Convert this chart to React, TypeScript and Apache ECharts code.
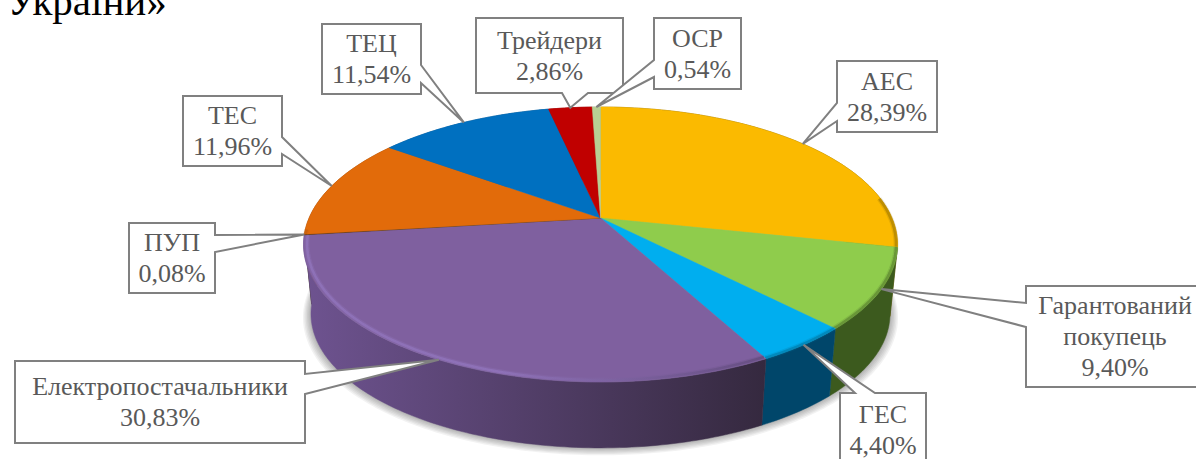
import React, { useEffect, useRef } from "react";
import * as echarts from "echarts";

const categories = ["АЕС", "Гарантований\nпокупець", "ГЕС", "Електропостачальники", "ПУП", "ТЕС", "ТЕЦ", "Трейдери", "ОСР"];
const shares = [28.39, 9.4, 4.4, 30.83, 0.08, 11.96, 11.54, 2.86, 0.54];
const titleFragment = "України»";

const topColors = ["#fbba00", "#8fcc4c", "#00aeef", "#7f609f", "#5a3a10", "#e26b0a", "#0070c0", "#c00000", "#b8cf94"];
const sideStart = ["#7d5d00", "#3f5c20", "#004c6e", "#6e5390", "#2a2a2a", "#8a4206", "#004a80", "#800000", "#7a8a60"];
const sideEnd = ["#7d5d00", "#3c5a1e", "#00466a", "#35293f", "#2a2a2a", "#8a4206", "#004a80", "#800000", "#7a8a60"];
const rimLeft = ["#8c6a00", "#5e8a30", "#0088bb", "#9a7fcb", "#2a2a2a", "#b85a10", "#005a9a", "#900000", "#8a9a70"];
const rimRight = ["#8c6a00", "#4a6c26", "#006c95", "#4c3a62", "#2a2a2a", "#b85a10", "#005a9a", "#900000", "#8a9a70"];

// Perspective projection of the pie disc on the page
const CX = 600.5, TOP_Y = 218, RX = 291.4, RY = 132.4, K = 0.1927;
const BASE_Y = 288, BASE_S = 0.975;
const HALO_STEPS = [6, 5, 4, 3, 2, 1];

type Box = { x: number; y: number; w: number; h: number; side: "l" | "r" | "t" | "b"; a: number; b: number };
const boxes: Box[] = [
  { x: 837, y: 61, w: 100, h: 71, side: "l", a: 103, b: 121 },
  { x: 1026, y: 286, w: 172, h: 101, side: "l", a: 303, b: 327 },
  { x: 840, y: 393, w: 86, h: 80, side: "t", a: 855, b: 875 },
  { x: 15, y: 361, w: 290, h: 82, side: "r", a: 374, b: 394 },
  { x: 129, y: 223, w: 86, h: 70, side: "r", a: 235, b: 252 },
  { x: 183, y: 96, w: 99, h: 70, side: "r", a: 137, b: 154 },
  { x: 322, y: 24, w: 99, h: 70, side: "r", a: 65, b: 83 },
  { x: 476, y: 18, w: 147, h: 75, side: "b", a: 562, b: 588 },
  { x: 654, y: 18, w: 87, h: 71, side: "l", a: 60, b: 77 },
];

const total = shares.reduce((s, v) => s + v, 0);
const starts = shares.map((_, i) => shares.slice(0, i).reduce((s, v) => s + v, 0) / total);
const ends = shares.map((_, i) => starts[i] + shares[i] / total);

function rim(p: number, s = 1, y0 = TOP_Y): number[] {
  const t = p * 2 * Math.PI;
  const u = Math.sin(t), v = -Math.cos(t), d = 1 - K * v;
  return [CX + (s * RX * u) / d, y0 + (s * RY * v) / d];
}
function arc(p0: number, p1: number, s = 1, y0 = TOP_Y): number[][] {
  const n = Math.max(2, Math.ceil((p1 - p0) * 360));
  const pts: number[][] = [];
  for (let i = 0; i <= n; i++) pts.push(rim(p0 + ((p1 - p0) * i) / n, s, y0));
  return pts;
}
const grad = (a: string, b: string, x0: number, x1: number) => ({
  type: "linear", x: x0, y: 0, x2: x1, y2: 0, global: true,
  colorStops: [{ offset: 0, color: a }, { offset: 1, color: b }],
});

function renderBase(): any {
  return {
    type: "group",
    children: HALO_STEPS.map((j) => ({
      type: "polygon",
      shape: { points: arc(0, 1, BASE_S + j * 0.0045, BASE_Y + j * 0.5) },
      style: { fill: "rgba(0,0,0,0.05)" },
    })),
  };
}
function renderSide(_: any, api: any): any {
  const i = api.value(1);
  const top = arc(starts[i], ends[i]);
  const bottom = arc(starts[i], ends[i], BASE_S, BASE_Y).reverse();
  const fill = grad(sideStart[i], sideEnd[i], 304, 765);
  return { type: "polygon", shape: { points: top.concat(bottom) }, style: { fill, stroke: fill, lineWidth: 0.5 } };
}
function renderTop(_: any, api: any): any {
  const i = api.value(1);
  const children: any[] = [{
    type: "polygon",
    shape: { points: [[CX, TOP_Y], ...arc(starts[i], ends[i])] },
    style: { fill: topColors[i], stroke: topColors[i], lineWidth: 0.5 },
  }];
  const band = arc(starts[i], ends[i], i === 3 ? 0.988 : 0.995).filter((q) => q[1] > TOP_Y - 20 + (q[0] < CX ? 30 : 0));
  if (band.length > 1) {
    const stroke = grad(rimLeft[i], rimRight[i], 500, 790);
    children.push(
      { type: "polyline", shape: { points: band }, style: { fill: "none", stroke, lineWidth: 5, opacity: 0.18 } },
      { type: "polyline", shape: { points: band }, style: { fill: "none", stroke, lineWidth: 2.5, opacity: 0.45 } },
    );
  }
  return { type: "group", children };
}
function calloutPoints(b: Box, tip: number[]): number[][] {
  const L = b.x, R = b.x + b.w, T = b.y, B = b.y + b.h;
  if (b.side === "l") return [[L, T], [R, T], [R, B], [L, B], [L, b.b], tip, [L, b.a]];
  if (b.side === "r") return [[L, T], [R, T], [R, b.a], tip, [R, b.b], [R, B], [L, B]];
  if (b.side === "t") return [[L, T], [b.a, T], tip, [b.b, T], [R, T], [R, B], [L, B]];
  return [[L, T], [R, T], [R, B], [b.b, B], tip, [b.a, B], [L, B]];
}
function renderLabel(_: any, api: any): any {
  const i = api.value(1);
  const b = boxes[i];
  const tip = rim((starts[i] + ends[i]) / 2);
  const pct = shares[i].toFixed(2).replace(".", ",") + "%";
  return {
    type: "group",
    children: [
      { type: "polygon", shape: { points: calloutPoints(b, tip) }, style: { fill: "#ffffff", stroke: "#808080", lineWidth: 2 } },
      {
        type: "text",
        style: {
          text: categories[i] + "\n" + pct,
          x: i === 1 ? 1115 : b.x + b.w / 2,
          y: i === 2 ? 430 : b.y + b.h / 2,
          align: "center", verticalAlign: "middle",
          fontFamily: "Liberation Serif", fontSize: 26, lineHeight: 31, fill: "#595959",
        },
      },
    ],
  };
}

export default function App() {
  const ref = useRef<HTMLDivElement>(null);
  useEffect(() => {
    const chart = echarts.init(ref.current!, undefined, { renderer: "svg" });
    const data = shares.map((v, i) => [v, i]);
    const sideOrder = [...data].sort(
      (a, b) => rim((starts[a[1]] + ends[a[1]]) / 2)[1] - rim((starts[b[1]] + ends[b[1]]) / 2)[1],
    );
    chart.setOption({
      animation: false,
      backgroundColor: "#ffffff",
      graphic: [{
        type: "text", left: 7, top: -20, silent: true,
        style: { text: titleFragment, fontFamily: "Liberation Serif", fontSize: 41, fill: "#000000" },
      }],
      series: [
        { type: "custom", coordinateSystem: "none", z: 1, renderItem: renderBase, data: [[total, 0]], silent: true },
        { type: "custom", coordinateSystem: "none", z: 2, renderItem: renderSide, data: sideOrder, silent: true },
        { type: "custom", coordinateSystem: "none", z: 3, renderItem: renderTop, data, silent: true },
        { type: "custom", coordinateSystem: "none", z: 4, renderItem: renderLabel, data, silent: true },
      ],
    });
    return () => chart.dispose();
  }, []);
  return <div ref={ref} style={{ position: "fixed", left: 0, top: 0, width: 1196, height: 459 }} />;
}
